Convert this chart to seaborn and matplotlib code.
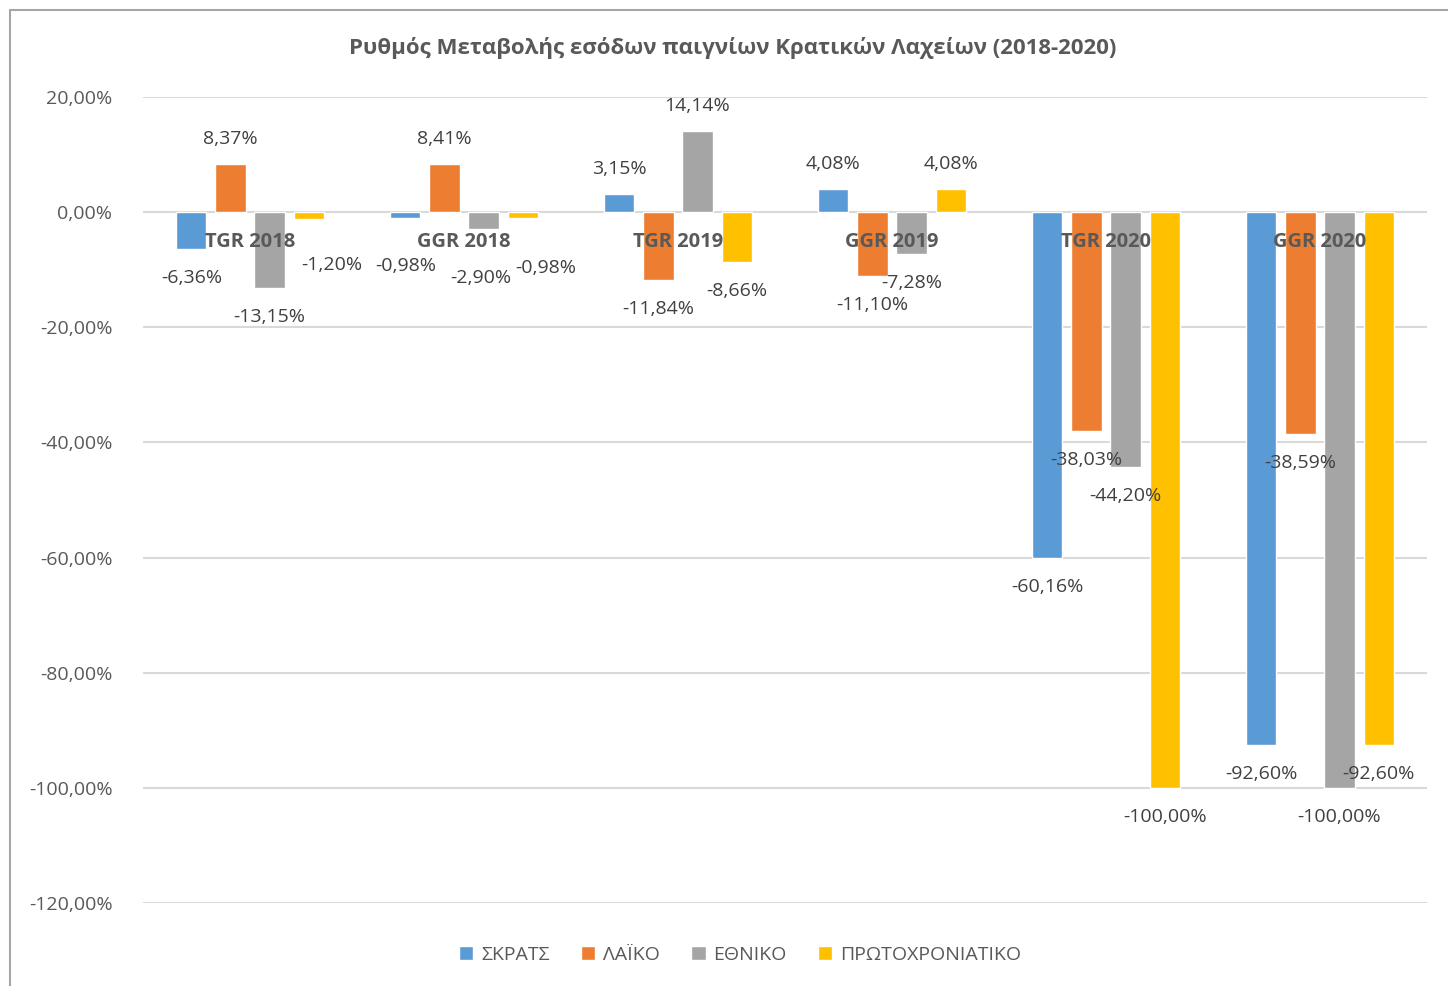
import matplotlib
matplotlib.use('Agg')
import matplotlib.pyplot as plt
import seaborn as sns
import pandas as pd
from matplotlib.lines import Line2D
from matplotlib import font_manager

categories = ['TGR 2018', 'GGR 2018', 'TGR 2019', 'GGR 2019', 'TGR 2020', 'GGR 2020']
series = ['ΣΚΡΑΤΣ', 'ΛΑΪΚΟ', 'ΕΘΝΙΚΟ', 'ΠΡΩΤΟΧΡΟΝΙΑΤΙΚΟ']
skrats = [-6.36, -0.98, 3.15, 4.08, -60.16, -92.60]
laiko = [8.37, 8.41, -11.84, -11.10, -38.03, -38.59]
ethniko = [-13.15, -2.90, 14.14, -7.28, -44.20, -100.00]
protoxroniatiko = [-1.20, -0.98, -8.66, 4.08, -100.00, -92.60]
yticks = [20, 0, -20, -40, -60, -80, -100, -120]

colors = ['#5B9BD5', '#ED7D31', '#A5A5A5', '#FFC000']
text_col = '#595959'
label_col = '#404040'

# Excel moved a few labels out of the way, (series, category) -> (dx, dy) in px, +dy = down
nudges = {(3, 0): (23, 17), (0, 1): (0, 19), (2, 1): (-3, 20), (3, 1): (23, 21)}

rows = []
for name, vals in zip(series, [skrats, laiko, ethniko, protoxroniatiko]):
    for cat, v in zip(categories, vals):
        rows.append({'category': cat, 'series': name, 'value': v})
df = pd.DataFrame(rows)

# pick a family that really has a bold face
family = 'DejaVu Sans'
for cand in ['Noto Sans', 'Open Sans', 'Lato', 'Roboto', 'Liberation Sans']:
    try:
        path = font_manager.findfont(font_manager.FontProperties(family=cand, weight='bold'),
                                     fallback_to_default=False)
        if 'bold' in path.lower():
            family = cand
            break
    except Exception:
        pass

sns.set_style('white')
plt.rcParams['font.family'] = [family, 'DejaVu Sans']

fig = plt.figure(figsize=(14.48, 9.86), dpi=100)
ax = fig.add_axes([143 / 1448, 1 - 903 / 986, 1284 / 1448, 806 / 986])

sns.barplot(data=df, x='category', y='value', hue='series', palette=colors,
            saturation=1, width=0.73, gap=0.23, ax=ax, zorder=2)

ax.set_ylim(-120, 20)
ax.set_xlim(-0.5, len(categories) - 0.5)
ax.set_yticks(yticks)
ax.set_yticklabels([f'{t:.2f}%'.replace('.', ',') for t in yticks])
ax.tick_params(axis='y', length=0, pad=22, labelsize=14, labelcolor=text_col)
ax.set_xticks([])
ax.set_xlabel('')
ax.set_ylabel('')
ax.grid(axis='y', color='#d9d9d9', lw=1.5, zorder=0)
for s in ax.spines.values():
    s.set_visible(False)

# data labels
for si, cont in enumerate(ax.containers):
    for ci, bar in enumerate(cont):
        h = bar.get_height()
        x = bar.get_x() + bar.get_width() / 2
        dx, dy = nudges.get((si, ci), (0, 0))
        off = 25 if h >= 0 else -29
        ax.annotate(f'{h:.2f}%'.replace('.', ','), (x, h),
                    xytext=(dx * 0.72, (off - dy) * 0.72), textcoords='offset points',
                    ha='center', va='center', fontsize=14, color=label_col, zorder=5)

# category names just under the zero line
for i, cat in enumerate(categories):
    ax.annotate(cat, (i, 0), xytext=(0, -30 * 0.72), textcoords='offset points',
                ha='center', va='center', fontsize=14.5, fontweight='bold',
                color=text_col, zorder=6)

fig.text(733 / 1448, 1 - 48 / 986,
         'Ρυθμός Μεταβολής εσόδων παιγνίων Κρατικών Λαχείων (2018-2020)',
         ha='center', va='center', fontsize=16, fontweight='bold', color=text_col)

handles, labels = ax.get_legend_handles_labels()
ax.get_legend().remove()
fig.legend(handles, labels, loc='center', bbox_to_anchor=(740 / 1448, 1 - 955 / 986),
           ncol=4, frameon=False, fontsize=14, handlelength=0.75, handleheight=0.75,
           handletextpad=0.4, columnspacing=1.6, labelcolor=text_col)

# chart border (cut off on the right and bottom)
fig.add_artist(Line2D([10 / 1448, 10 / 1448], [0, 1 - 10 / 986], color='#a6a6a6', lw=1.5,
                      transform=fig.transFigure))
fig.add_artist(Line2D([10 / 1448, 1], [1 - 10 / 986, 1 - 10 / 986], color='#a6a6a6', lw=1.5,
                      transform=fig.transFigure))

fig.savefig('out.png', dpi=100, facecolor='white')
